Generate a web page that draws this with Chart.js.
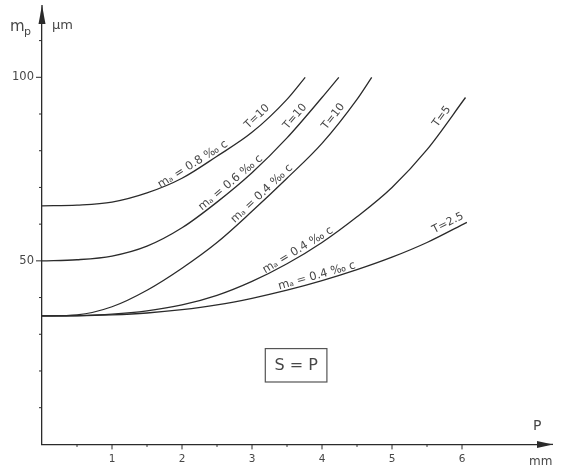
<!DOCTYPE html>
<html><head><meta charset="utf-8">
<script src="https://cdn.jsdelivr.net/npm/chart.js@4.4.1/dist/chart.umd.min.js"></script>
<style>html,body{margin:0;padding:0;background:#fff}#wrap{width:561px;height:466px}</style>
</head><body><div id="wrap"><canvas id="c" width="561" height="466"></canvas></div>
<script>
// P values (mm) and m_p values (µm)
const pA = [0, 0.5, 1, 1.5, 2, 2.5, 3, 3.5, 3.76];
const mA = [65, 65.2, 66, 68.5, 72.5, 78.5, 85, 94, 100];
const pB = [0, 0.5, 1, 1.5, 2, 2.5, 3, 3.5, 4, 4.24];
const mB = [50, 50.3, 51.3, 54, 59, 66, 74, 83.5, 94.5, 100];
const pC = [0, 0.5, 1, 1.5, 2, 2.5, 3, 3.5, 4, 4.5, 4.71];
const mC = [35, 35.3, 37.5, 42, 48, 55, 63.5, 72.5, 82, 94, 100];
const pD = [0, 0.5, 1, 1.5, 2, 2.5, 3, 3.5, 4, 4.5, 5, 5.5, 6.05];
const mD = [35, 35.1, 35.5, 36.4, 38, 40.6, 44.4, 49.2, 55, 62, 70, 80.3, 94.5];
const pE = [0, 0.5, 1, 1.5, 2, 2.5, 3, 3.5, 4, 4.5, 5, 5.5, 6.07];
const mE = [35, 35.05, 35.3, 35.8, 36.7, 38, 39.8, 42, 44.6, 47.6, 51, 55, 60.5];
const seriesNames = ["mₐ = 0.8 ‰ c", "mₐ = 0.6 ‰ c", "mₐ = 0.4 ‰ c", "mₐ = 0.4 ‰ c", "mₐ = 0.4 ‰ c"];
const seriesT = ["T=10", "T=10", "T=10", "T=5", "T=2.5"];
const xTickLabels = ["1", "2", "3", "4", "5", "6"];
const yTickLabels = ["50", "100"];

const LINE = '#2b2b2b', TXT = '#474747';
const pts = (p, m) => p.map((v, i) => ({x: v, y: m[i]}));
const allP = [pA, pB, pC, pD, pE], allM = [mA, mB, mC, mD, mE];
const datasets = allP.map((p, i) => ({
  label: seriesNames[i], data: pts(p, allM[i]),
  borderColor: LINE, borderWidth: 1.3, pointRadius: 0, fill: false,
  cubicInterpolationMode: 'monotone'
}));

// label placement: [series index, P for name, P for T label]
const labelAt = [[0, 2.2, 3.15], [1, 2.75, 3.7], [2, 3.2, 4.25], [3, 3.7, 5.8], [4, 3.95, 5.85]];

function interp(p, m, x) {
  for (let i = 1; i < p.length; i++) {
    if (x <= p[i]) { const t = (x - p[i-1]) / (p[i] - p[i-1]); return m[i-1] + t * (m[i] - m[i-1]); }
  }
  return m[m.length - 1];
}

const deco = {
  id: 'deco',
  afterDraw(chart) {
    const ctx = chart.ctx, xs = chart.scales.x, ys = chart.scales.y;
    const x0 = xs.getPixelForValue(0), y0 = ys.getPixelForValue(0);
    ctx.save();
    ctx.strokeStyle = LINE; ctx.fillStyle = LINE; ctx.lineWidth = 1.3;
    ctx.beginPath(); ctx.moveTo(xs.right, y0); ctx.lineTo(553, y0); ctx.stroke();
    ctx.beginPath(); ctx.moveTo(553, y0); ctx.lineTo(537, y0 - 3.5); ctx.lineTo(537, y0 + 3.5); ctx.closePath(); ctx.fill();
    ctx.beginPath(); ctx.moveTo(x0, ys.top); ctx.lineTo(x0, 5); ctx.stroke();
    ctx.beginPath(); ctx.moveTo(x0, 5); ctx.lineTo(x0 - 3.5, 24); ctx.lineTo(x0 + 3.5, 24); ctx.closePath(); ctx.fill();
    ctx.lineWidth = 1;
    for (let v = 10; v <= 110; v += 10) {
      const y = ys.getPixelForValue(v);
      const len = (v % 50 === 0) ? 6 : 3;
      ctx.beginPath(); ctx.moveTo(x0 - len, y); ctx.lineTo(x0, y); ctx.stroke();
    }
    for (let v = 0.5; v <= 6.01; v += 0.5) {
      const x = xs.getPixelForValue(v);
      const len = (Math.abs(v - Math.round(v)) < 1e-6) ? 5 : 2.5;
      ctx.beginPath(); ctx.moveTo(x, y0); ctx.lineTo(x, y0 + len); ctx.stroke();
    }
    ctx.fillStyle = TXT;
    ctx.textAlign = 'center'; ctx.textBaseline = 'alphabetic';
    labelAt.forEach(([i, pn, pt]) => {
      [[pn, seriesNames[i], 11.5, 3], [pt, seriesT[i], 11, 5]].forEach(([pp, txt, fs, off]) => {
        const p = allP[i], m = allM[i];
        const xa = xs.getPixelForValue(pp - 0.08), ya = ys.getPixelForValue(interp(p, m, pp - 0.08));
        const xb = xs.getPixelForValue(pp + 0.08), yb = ys.getPixelForValue(interp(p, m, pp + 0.08));
        const ang = Math.atan2(yb - ya, xb - xa);
        const xc = xs.getPixelForValue(pp), yc = ys.getPixelForValue(interp(p, m, pp));
        ctx.save(); ctx.translate(xc, yc); ctx.rotate(ang);
        ctx.font = fs + 'px "DejaVu Sans"';
        ctx.fillText(txt, 0, -off);
        ctx.restore();
      });
    });
    ctx.textAlign = 'left'; ctx.textBaseline = 'alphabetic';
    ctx.font = '15px "DejaVu Sans"'; ctx.fillText('m', 10, 31);
    ctx.font = '11px "DejaVu Sans"'; ctx.fillText('p', 24, 35);
    ctx.font = '13px "DejaVu Sans"'; ctx.fillText('µm', 52, 29);
    ctx.font = '14px "DejaVu Sans"'; ctx.fillText('P', 533, 430);
    ctx.font = '12px "DejaVu Sans"'; ctx.fillText('mm', 529, 465);
    const bx1 = xs.getPixelForValue(3.19), bx2 = xs.getPixelForValue(4.07);
    const by1 = ys.getPixelForValue(26.1), by2 = ys.getPixelForValue(17);
    ctx.strokeStyle = '#555'; ctx.lineWidth = 1.2;
    ctx.strokeRect(bx1, by1, bx2 - bx1, by2 - by1);
    ctx.font = '16px "DejaVu Sans"'; ctx.textAlign = 'center'; ctx.textBaseline = 'middle';
    ctx.fillText('S = P', (bx1 + bx2) / 2, (by1 + by2) / 2 + 1);
    ctx.restore();
  }
};

new Chart(document.getElementById('c'), {
  type: 'line',
  data: { datasets },
  options: {
    responsive: false, animation: false, events: [],
    layout: { padding: { top: 7.5, right: 15, left: 0, bottom: 0 } },
    plugins: { legend: { display: false }, tooltip: { enabled: false } },
    scales: {
      x: {
        type: 'linear', min: 0, max: 7.2,
        afterFit: s => { s.height = 21.6; },
        grid: { display: false, drawTicks: false },
        border: { display: true, color: LINE, width: 1.3 },
        ticks: { stepSize: 1, padding: 9, color: TXT, font: { family: 'DejaVu Sans', size: 10.5 },
          autoSkip: false, maxRotation: 0,
          callback: v => xTickLabels.includes(String(v)) ? String(v) : '' }
      },
      y: {
        type: 'linear', min: 0, max: 117,
        afterFit: s => { s.width = 42; },
        grid: { display: false, drawTicks: false },
        border: { display: true, color: LINE, width: 1.3 },
        ticks: { stepSize: 10, padding: 8, color: TXT, font: { family: 'DejaVu Sans', size: 11.5 },
          autoSkip: false,
          callback: v => yTickLabels.includes(String(v)) ? String(v) : '' }
      }
    }
  },
  plugins: [deco]
});
</script></body></html>
